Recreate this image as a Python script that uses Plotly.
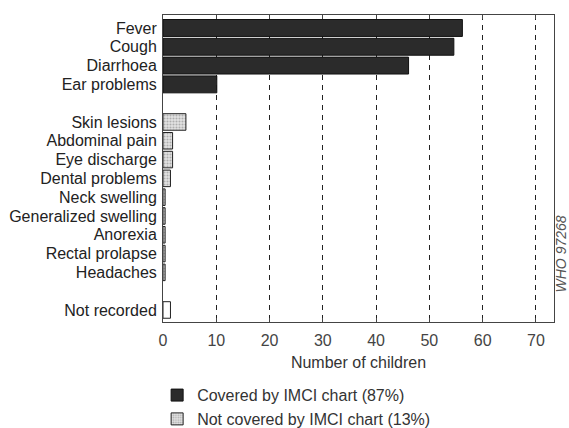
import plotly.graph_objects as go

# Row order (blank strings are spacer rows)
rows = ["Fever", "Cough", "Diarrhoea", "Ear problems", "",
        "Skin lesions", "Abdominal pain", "Eye discharge", "Dental problems",
        "Neck swelling", "Generalized swelling", "Anorexia", "Rectal prolapse",
        "Headaches", "", "Not recorded"]

covered_labels = ["Fever", "Cough", "Diarrhoea", "Ear problems"]
covered_values = [56.2, 54.6, 46.1, 10.1]

notcov_labels = ["Skin lesions", "Abdominal pain", "Eye discharge", "Dental problems",
                 "Neck swelling", "Generalized swelling", "Anorexia", "Rectal prolapse",
                 "Headaches"]
notcov_values = [4.3, 1.8, 1.8, 1.4, 0.4, 0.4, 0.4, 0.4, 0.4]

notrec_labels = ["Not recorded"]
notrec_values = [1.4]

x_ticks = [0, 10, 20, 30, 40, 50, 60, 70]

def pos(labels):
    return [rows.index(l) for l in labels]

tick_pos = [i for i, r in enumerate(rows) if r]
tick_txt = [r for r in rows if r]

FONT = "Liberation Sans, Arial, sans-serif"

fig = go.Figure()
fig.add_trace(go.Bar(
    y=pos(covered_labels), x=covered_values, orientation="h",
    name="Covered by IMCI chart (87%)", width=0.9,
    marker=dict(color="#2b2b2b", line=dict(color="#111", width=1)),
))
fig.add_trace(go.Bar(
    y=pos(notcov_labels), x=notcov_values, orientation="h",
    name="Not covered by IMCI chart (13%)", width=0.88,
    marker=dict(color="#dcdcdc", line=dict(color="#222", width=1),
                pattern=dict(shape=".", fgcolor="#777", bgcolor="#e4e4e4", size=3, solidity=0.4)),
))
fig.add_trace(go.Bar(
    y=pos(notrec_labels), x=notrec_values, orientation="h",
    name="Not recorded", width=0.88, showlegend=False,
    marker=dict(color="white", line=dict(color="#222", width=1)),
))

fig.update_layout(
    width=569, height=428,
    margin=dict(l=163, r=15, t=15, b=106, autoexpand=False),
    paper_bgcolor="white", plot_bgcolor="white",
    barmode="overlay",
    showlegend=True,
    legend=dict(x=-0.015, xanchor="left", y=-0.183, yanchor="top",
                font=dict(family=FONT, size=16, color="#333"),
                itemwidth=30, tracegroupgap=0, bgcolor="rgba(0,0,0,0)"),
    font=dict(family=FONT, color="#333"),
)
fig.update_xaxes(
    range=[0, 73.4], tickvals=x_ticks, showgrid=True,
    gridcolor="#222", griddash="5px,5px", gridwidth=1,
    showline=True, linecolor="#444", linewidth=1, mirror="allticks",
    ticks="inside", ticklen=4, tickcolor="#444",
    tickfont=dict(family=FONT, size=16, color="#444"),
    ticklabelstandoff=4,
    title=dict(text="Number of children", standoff=8,
               font=dict(family=FONT, size=16, color="#333")),
    zeroline=False, automargin=False,
)
fig.update_yaxes(
    range=[15.64, -0.69], tickvals=tick_pos, ticktext=tick_txt,
    showgrid=False, showline=True, linecolor="#444", linewidth=1, mirror=True,
    ticks="", ticklabelstandoff=2,
    tickfont=dict(family=FONT, size=16, color="#222"),
    zeroline=False, automargin=False,
)
fig.add_annotation(
    text="<i>WHO 97268</i>", x=1.0, xref="paper", xanchor="center", xshift=7,
    y=0.22, yref="paper", yanchor="middle",
    showarrow=False, textangle=-90,
    font=dict(family=FONT, size=14, color="#555"),
)
fig.write_html("out.html", config={"displayModeBar": False},
               post_script="document.body.style.margin='0';")
